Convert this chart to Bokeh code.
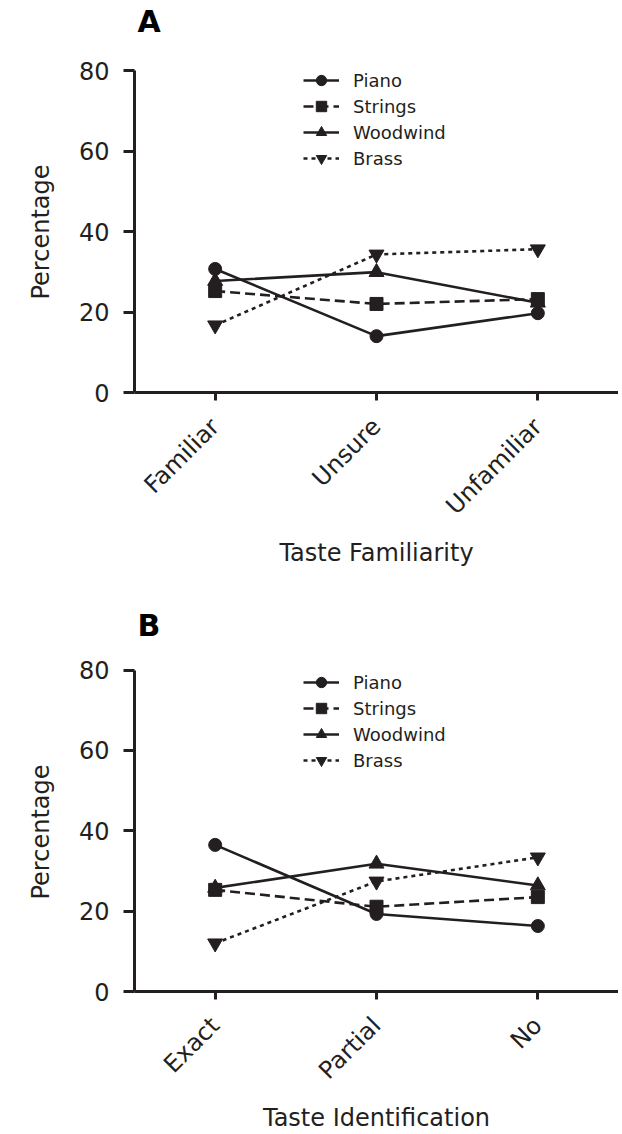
import math
from bokeh.plotting import figure
from bokeh.layouts import column
from bokeh.models import (FactorRange, Range1d, FixedTicker, Legend, LegendItem,
                          Label, Title)
from bokeh.embed import file_html
from bokeh.resources import INLINE

# ---- data ----
familiarity = ["Familiar", "Unsure", "Unfamiliar"]
identification = ["Exact", "Partial", "No"]
series_names = ["Piano", "Strings", "Woodwind", "Brass"]

a_piano = [30.7, 14.0, 19.7]
a_strings = [25.2, 22.0, 23.2]
a_woodwind = [27.7, 29.9, 22.3]
a_brass = [16.7, 34.3, 35.6]

b_piano = [36.5, 19.3, 16.3]
b_strings = [25.3, 21.1, 23.5]
b_woodwind = [25.8, 31.8, 26.4]
b_brass = [12.0, 27.4, 33.4]

y_ticks = [0, 20, 40, 60, 80]
y_axis_max = 80

INK = "#231f20"
FONT = "DejaVu Sans"
markers = {"Piano": "circle", "Strings": "square", "Woodwind": "triangle", "Brass": "inverted_triangle"}
sizes = {"Piano": 13, "Strings": 13, "Woodwind": 15, "Brass": 15}
dashes = {"Piano": "solid", "Strings": "10 5", "Woodwind": "solid", "Brass": "4 4"}


def make_panel(letter, letter_dy, cats, xlabel, series, height, frame_h, axis_px,
               border_bottom, legend_top, xlabel_standoff):
    # the frame extends above the axis so the panel letter is not clipped;
    # the y axis line itself is bounded to 0..80
    y_end = y_axis_max * frame_h / axis_px
    p = figure(x_range=FactorRange(*cats), y_range=Range1d(0, y_end),
               width=618, height=height, output_backend="svg", toolbar_location=None,
               min_border_left=134, min_border_right=0, min_border_top=0,
               min_border_bottom=border_bottom)
    p.outline_line_color = None
    p.xgrid.visible = False
    p.ygrid.visible = False
    p.background_fill_color = None
    p.border_fill_color = None

    p.add_layout(Label(x=0, y=y_axis_max, x_offset=3, y_offset=letter_dy, text=letter,
                       text_font=FONT, text_font_size="30px", text_font_style="bold",
                       text_color="black", text_baseline="alphabetic", text_align="left"))

    items = []
    for name, vals in zip(series_names, series):
        r1 = p.line(cats, vals, line_color=INK, line_width=2.6, line_dash=dashes[name])
        r2 = p.scatter(cats, vals, marker=markers[name], size=sizes[name],
                       fill_color=INK, line_color=INK)
        items.append(LegendItem(label=name, renderers=[r1, r2]))

    leg_h = 4 * 26
    legend = Legend(items=items, location=(169, frame_h - legend_top - leg_h),
                    padding=0, margin=0,
                    spacing=0, glyph_width=36, glyph_height=26, label_height=26,
                    label_standoff=14, border_line_color=None,
                    background_fill_alpha=0, label_text_font=FONT,
                    label_text_font_size="18px", label_text_color=INK)
    p.add_layout(legend, "center")

    for ax in (p.xaxis[0], p.yaxis[0]):
        ax.axis_line_color = INK
        ax.axis_line_width = 3
        ax.major_tick_line_color = INK
        ax.major_tick_line_width = 3
        ax.major_tick_in = 0
        ax.minor_tick_line_color = None
        ax.major_label_text_font = FONT
        ax.major_label_text_font_size = "24px"
        ax.major_label_text_color = INK
        ax.axis_label_text_font = FONT
        ax.axis_label_text_font_size = "24px"
        ax.axis_label_text_font_style = "normal"
        ax.axis_label_text_color = INK

    p.yaxis.ticker = FixedTicker(ticks=y_ticks)
    p.yaxis.bounds = (0, y_axis_max)
    p.yaxis.major_tick_out = 11
    p.yaxis.major_label_standoff = 14

    # y-axis title, centred on the 0..80 axis span rather than the whole frame
    p.add_layout(Title(text="Percentage", align="right", vertical_align="top",
                       offset=164, standoff=38,
                       text_font=FONT, text_font_size="24px",
                       text_font_style="normal", text_color=INK), "left")

    p.xaxis.major_tick_out = 8
    p.xaxis.major_label_orientation = math.pi / 4
    p.xaxis.major_label_standoff = 22
    p.xaxis.axis_label = xlabel
    p.xaxis.axis_label_standoff = xlabel_standoff
    return p


pa = make_panel("A", 49, familiarity, "Taste Familiarity",
                [a_piano, a_strings, a_woodwind, a_brass],
                height=600, frame_h=392, axis_px=322, border_bottom=208,
                legend_top=67, xlabel_standoff=6)
pb = make_panel("B", 45, identification, "Taste Identification",
                [b_piano, b_strings, b_woodwind, b_brass],
                height=534, frame_h=393, axis_px=323, border_bottom=141,
                legend_top=71, xlabel_standoff=6)

layout = column(pa, pb, spacing=0)
open("out.html", "w").write(file_html(layout, INLINE))
